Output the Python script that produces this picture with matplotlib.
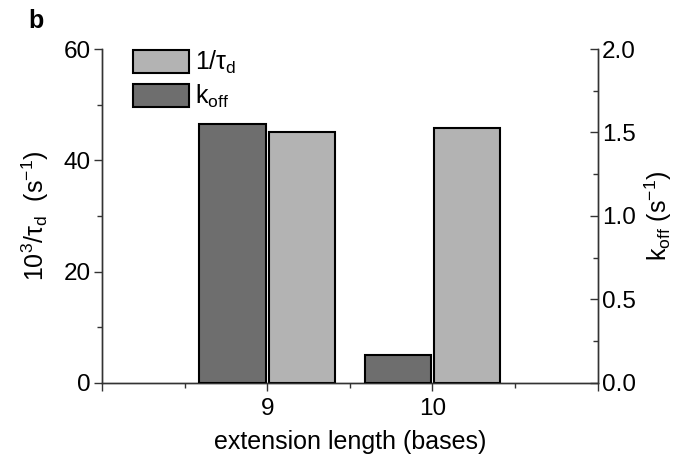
import matplotlib
matplotlib.use("Agg")
import matplotlib.pyplot as plt
from matplotlib.patches import Patch
from matplotlib.ticker import MultipleLocator, FixedLocator, FormatStrFormatter
import numpy as np

plt.rcParams["font.family"] = ["Liberation Sans", "DejaVu Sans"]
plt.rcParams["mathtext.fontset"] = "custom"
plt.rcParams["mathtext.rm"] = "Liberation Sans"
plt.rcParams["mathtext.it"] = "Liberation Sans:italic"

# data
ext_length = [9, 10]
inv_tau_d = [45.0, 45.8]      # 10^3 / tau_d (s^-1), left axis
k_off = [1.55, 0.166]         # k_off (s^-1), right axis

DARK = "#6e6e6e"
LIGHT = "#b3b3b3"
AXC = "#333333"
FS = 17.5

fig = plt.figure(figsize=(6.8, 4.58), dpi=100)
ax = fig.add_axes([0.15, 0.164, 0.729, 0.729])
ax2 = ax.twinx()

x = np.array(ext_length, dtype=float)
w = 0.4
ax2.bar(x - 0.21, k_off, w, color=DARK, edgecolor="black", linewidth=1.5, zorder=3)
ax.bar(x + 0.21, inv_tau_d, w, color=LIGHT, edgecolor="black", linewidth=1.5, zorder=3)

ax.set_xlim(8, 11)
ax.set_ylim(0, 60)
ax2.set_ylim(0, 2.0)

ax.xaxis.set_major_locator(FixedLocator([8, 9, 10, 11]))
ax.set_xticklabels(["", "9", "10", ""])
ax.xaxis.set_minor_locator(MultipleLocator(0.5))
ax.yaxis.set_major_locator(MultipleLocator(20))
ax.yaxis.set_minor_locator(MultipleLocator(10))
ax2.yaxis.set_major_locator(MultipleLocator(0.5))
ax2.yaxis.set_minor_locator(MultipleLocator(0.25))
ax2.yaxis.set_major_formatter(FormatStrFormatter("%.1f"))

for a in (ax, ax2):
    a.spines["top"].set_visible(False)
    for s in ("left", "right", "bottom"):
        a.spines[s].set_color(AXC)
        a.spines[s].set_linewidth(1.0)

ax.tick_params(axis="both", which="major", direction="out", length=6, width=1,
               color=AXC, labelsize=FS, pad=2)
ax.tick_params(axis="x", which="major", pad=5)
ax.tick_params(axis="both", which="minor", direction="out", length=3.5, width=1, color=AXC)
ax2.tick_params(axis="y", which="major", direction="in", length=6, width=1,
                color=AXC, labelsize=FS, pad=3)
ax2.tick_params(axis="y", which="minor", direction="in", length=3.5, width=1, color=AXC)

ax.set_xlabel("extension length (bases)", fontsize=18, labelpad=7)
ax.set_ylabel("10$^{3}$/τ$_{\\mathrm{d}}$  (s$^{-1}$)", fontsize=18, labelpad=9)
ax2.set_ylabel("k$_{\\mathrm{off}}$ (s$^{-1}$)", fontsize=18, labelpad=5)

handles = [Patch(facecolor=LIGHT, edgecolor="black", linewidth=1.5),
           Patch(facecolor=DARK, edgecolor="black", linewidth=1.5)]
labels = ["1/τ$_{\\mathrm{d}}$", "k$_{\\mathrm{off}}$"]
ax2.legend(handles, labels, loc="upper left", bbox_to_anchor=(0.042, 1.03),
           frameon=False, fontsize=18, handlelength=2.25, handleheight=1.0,
           handletextpad=0.25, labelspacing=0.28, borderaxespad=0)

fig.text(0.041, 0.955, "b", fontsize=18, fontweight="bold", va="center")

fig.savefig("out.png", dpi=100)
